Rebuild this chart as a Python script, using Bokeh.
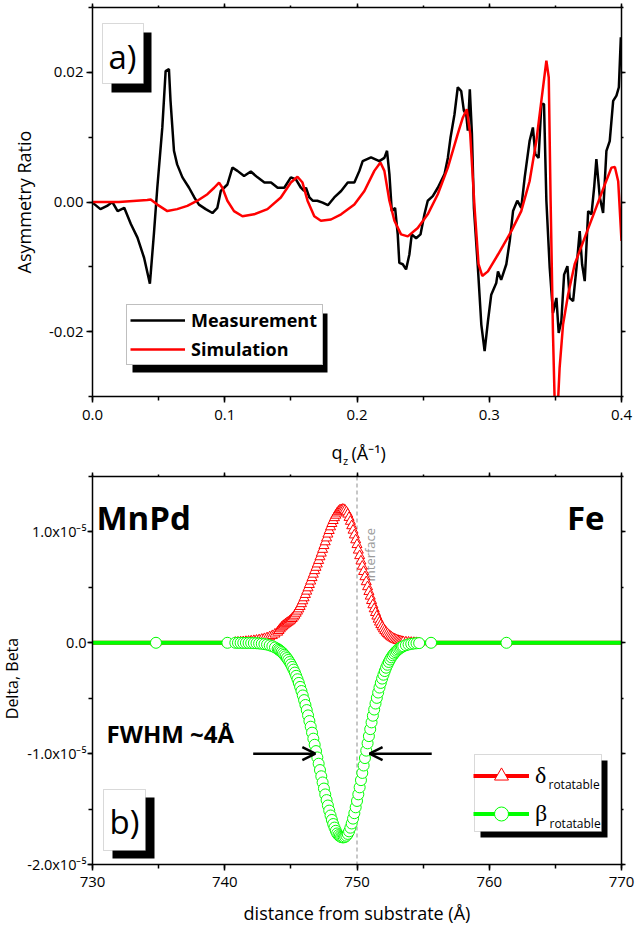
import math
from bokeh.plotting import figure
from bokeh.layouts import column, row
from bokeh.models import (LinearAxis, SingleIntervalTicker, NumeralTickFormatter, Legend, LegendItem,
                          BoxAnnotation, Label, Span, Arrow, OpenHead, Range1d)
from bokeh.embed import file_html
from bokeh.resources import INLINE

# ---------------- Panel a) data ----------------
meas_q = [0.000, 0.006, 0.011, 0.015, 0.019, 0.024, 0.029, 0.034, 0.039, 0.0434, 0.0464, 0.049, 0.0528,
          0.0553, 0.0578, 0.059, 0.0616, 0.064, 0.068, 0.073, 0.077, 0.0805, 0.0856, 0.0907, 0.0944, 0.097,
          0.0995, 0.102, 0.1058, 0.1096, 0.1146, 0.1197, 0.1248, 0.130, 0.135, 0.140, 0.145, 0.150, 0.1538,
          0.1576, 0.160, 0.1614, 0.164, 0.1665, 0.170, 0.174, 0.178, 0.1828, 0.188, 0.193, 0.198, 0.2018,
          0.2043, 0.2106, 0.2169, 0.2207, 0.2227, 0.2245, 0.2263, 0.2288, 0.2308, 0.232, 0.2346, 0.2371,
          0.2396, 0.2414, 0.2447, 0.248, 0.251, 0.2535, 0.2573, 0.2611, 0.2662, 0.2687, 0.2707, 0.2737,
          0.2762, 0.2788, 0.2808, 0.2826, 0.2838, 0.2853, 0.2869, 0.2884, 0.2914, 0.294, 0.2965, 0.299,
          0.3015, 0.3053, 0.3066, 0.309, 0.3129, 0.3155, 0.318, 0.3212, 0.3242, 0.3268, 0.3305, 0.333,
          0.3348, 0.3373, 0.3394, 0.3414, 0.3432, 0.3457, 0.3482, 0.3508, 0.3525, 0.3545, 0.3566, 0.3591,
          0.3608, 0.3634, 0.366, 0.3684, 0.3702, 0.3722, 0.3748, 0.3773, 0.3793, 0.381, 0.3836, 0.3861,
          0.3886, 0.3911, 0.3937, 0.3962, 0.398, 0.3995]
meas_ratio = [-0.0001, -0.0011, -0.0006, 0.0, -0.0014, -0.0009, -0.0034, -0.0055, -0.0086, -0.0126, -0.005,
              0.0022, 0.0115, 0.0202, 0.0205, 0.0156, 0.0079, 0.0058, 0.0038, 0.0022, 0.0007, -0.0004,
              -0.0011, -0.0017, -0.0009, 0.0017, 0.0022, 0.0027, 0.0053, 0.0048, 0.004, 0.0047, 0.0038,
              0.003, 0.003, 0.0022, 0.0022, 0.0038, 0.0035, 0.0022, 0.0017, 0.0022, 0.0007, 0.0002, 0.0002,
              -0.0001, -0.0005, 0.0007, 0.0017, 0.003, 0.003, 0.0048, 0.0063, 0.0069, 0.0063, 0.0068, 0.0079,
              0.0043, -0.0014, -0.0009, -0.005, -0.0094, -0.0096, -0.0104, -0.0081, -0.005, -0.0056, -0.005,
              -0.0019, 0.0002, 0.0009, 0.0022, 0.0043, 0.0068, 0.0099, 0.0135, 0.0177, 0.0171, 0.0141,
              0.0135, 0.011, 0.0174, 0.0105, -0.0009, -0.0101, -0.0189, -0.023, -0.0184, -0.0143, -0.0125,
              -0.0107, -0.012, -0.0096, -0.006, -0.0014, 0.0002, -0.0009, 0.0038, 0.0094, 0.0115, 0.0074,
              0.0068, 0.0151, 0.0151, 0.0002, -0.0101, -0.0171, -0.0148, -0.0202, -0.0184, -0.0112, -0.0099,
              -0.0148, -0.0153, -0.0101, -0.0045, -0.0096, -0.0122, -0.0014, -0.0019, 0.0022, 0.0066, 0.0007,
              -0.0017, 0.0079, 0.0094, 0.0156, 0.0164, 0.0177, 0.0254]

sim_q = [0.0, 0.02, 0.0414, 0.044, 0.049, 0.0566, 0.064, 0.0717, 0.0793, 0.0869, 0.092, 0.0957, 0.0982,
         0.102, 0.107, 0.1134, 0.1222, 0.1323, 0.1424, 0.150, 0.155, 0.1588, 0.1626, 0.1677, 0.1727, 0.1803,
         0.188, 0.198, 0.2056, 0.2131, 0.2177, 0.2207, 0.2245, 0.2283, 0.2333, 0.2384, 0.2459, 0.2535,
         0.2611, 0.2687, 0.2762, 0.280, 0.283, 0.2856, 0.2889, 0.2919, 0.2947, 0.299, 0.3066, 0.3167,
         0.3242, 0.3305, 0.3356, 0.3394, 0.3432, 0.345, 0.3464, 0.3482, 0.3495, 0.3515, 0.3532, 0.3558,
         0.3596, 0.3646, 0.3722, 0.3798, 0.3874, 0.3924, 0.395, 0.3975, 0.400]
sim_ratio = [0.0, 0.0, 0.0003, 0.0004, -0.0004, -0.0014, -0.0011, -0.0006, 0.0002, 0.0012, 0.0022, 0.003,
             0.0022, 0.0002, -0.0014, -0.0022, -0.0019, -0.0011, 0.0007, 0.003, 0.0039, 0.003, 0.0002,
             -0.0022, -0.0029, -0.0027, -0.0019, -0.0004, 0.0017, 0.0048, 0.0061, 0.0048, 0.0002, -0.0029,
             -0.005, -0.0053, -0.004, -0.0019, 0.0012, 0.0053, 0.0105, 0.013, 0.0143, 0.0105, -0.0009,
             -0.0096, -0.0114, -0.0107, -0.0081, -0.0045, -0.0014, 0.0032, 0.0094, 0.0156, 0.0218, 0.0192,
             0.0002, -0.0204, -0.031, -0.033, -0.0256, -0.0189, -0.0143, -0.0096, -0.0055, -0.0014, 0.0027,
             0.0053, 0.0054, 0.0032, -0.006]

# ---------------- Panel b) data (values in units of 1e-5) ----------------
depth = [728.0, 734.8, 740.2,
         740.8, 741.0, 741.2, 741.4, 741.6, 741.8, 742.0, 742.2, 742.4, 742.6, 742.8, 743.0, 743.2, 743.4,
         743.6, 743.8,
         744.0, 744.1, 744.2, 744.3, 744.4, 744.5, 744.6, 744.7, 744.8, 744.9,
         745.0, 745.1, 745.2, 745.3, 745.4, 745.5, 745.6, 745.7, 745.8, 745.9,
         746.0, 746.1, 746.2, 746.3, 746.4, 746.5, 746.6, 746.7, 746.8, 746.9,
         747.0, 747.1, 747.2, 747.3, 747.4, 747.5, 747.6, 747.7, 747.8, 747.9,
         748.0, 748.1, 748.2, 748.3, 748.4, 748.5, 748.6, 748.7, 748.8, 748.9,
         749.0, 749.1, 749.2, 749.3, 749.4, 749.5, 749.6, 749.7, 749.8, 749.9,
         750.0, 750.1, 750.2, 750.3, 750.4, 750.5, 750.6, 750.7, 750.8, 750.9,
         751.0, 751.1, 751.2, 751.3, 751.4, 751.5, 751.6, 751.7, 751.8, 751.9,
         752.0, 752.1, 752.2, 752.3, 752.4, 752.5, 752.6, 752.7, 752.8, 752.9,
         753.0, 753.1, 753.2, 753.3, 753.4, 753.5,
         753.7, 753.9, 754.1, 754.3, 754.5, 754.7, 755.6, 761.3, 772.0]
delta_rot = [0.0, 0.0, 0.0,
             0.003, 0.005, 0.007, 0.009, 0.011, 0.013, 0.016, 0.019, 0.022, 0.026, 0.031, 0.037, 0.044, 0.053,
             0.064, 0.078,
             0.095, 0.11, 0.125, 0.14, 0.15, 0.16, 0.17, 0.178, 0.186, 0.195,
             0.205, 0.218, 0.232, 0.248, 0.266, 0.285, 0.305, 0.327, 0.352, 0.378,
             0.405, 0.435, 0.465, 0.495, 0.525, 0.556, 0.587, 0.618, 0.65, 0.68,
             0.71, 0.742, 0.775, 0.808, 0.842, 0.876, 0.91, 0.945, 0.98, 1.012,
             1.045, 1.075, 1.102, 1.128, 1.15, 1.17, 1.185, 1.196, 1.2, 1.203,
             1.202, 1.195, 1.18, 1.16, 1.13, 1.095, 1.055, 1.015, 0.972, 0.928,
             0.885, 0.835, 0.785, 0.737, 0.69, 0.642, 0.595, 0.55, 0.505, 0.462,
             0.42, 0.38, 0.342, 0.306, 0.272, 0.24, 0.212, 0.186, 0.163, 0.143,
             0.125, 0.109, 0.095, 0.082, 0.07, 0.06, 0.051, 0.043, 0.036, 0.03,
             0.025, 0.021, 0.017, 0.014, 0.011, 0.009,
             0.007, 0.005, 0.003, 0.002, 0.001, 0.0, 0.0, 0.0, 0.0]
beta_rot = [0.0, 0.0, 0.0,
            0.0, 0.0, -0.0005, -0.001, -0.001, -0.0015, -0.002, -0.003, -0.004, -0.006, -0.0085, -0.012,
            -0.016, -0.023, -0.031, -0.042,
            -0.055, -0.064, -0.073, -0.083, -0.095, -0.108, -0.122, -0.138, -0.155, -0.174,
            -0.195, -0.218, -0.242, -0.269, -0.298, -0.329, -0.362, -0.398, -0.435, -0.475,
            -0.517, -0.561, -0.607, -0.655, -0.706, -0.757, -0.811, -0.865, -0.92, -0.977,
            -1.034, -1.091, -1.148, -1.204, -1.26, -1.315, -1.368, -1.419, -1.468, -1.514,
            -1.558, -1.598, -1.635, -1.667, -1.696, -1.72, -1.735, -1.745, -1.752, -1.755,
            -1.755, -1.75, -1.74, -1.724, -1.701, -1.668, -1.63, -1.586, -1.537, -1.484,
            -1.427, -1.367, -1.304, -1.239, -1.174, -1.107, -1.04, -0.973, -0.907, -0.842,
            -0.779, -0.718, -0.658, -0.602, -0.548, -0.497, -0.449, -0.404, -0.362, -0.323,
            -0.288, -0.255, -0.225, -0.198, -0.173, -0.151, -0.131, -0.113, -0.098, -0.084,
            -0.072, -0.061, -0.052, -0.044, -0.037, -0.031,
            -0.022, -0.015, -0.01, -0.0066, -0.0044, -0.003, 0.0, 0.0, 0.0]

interface_pos = 750.0
fwhm_left = 746.85
fwhm_right = 750.95
fwhm_level = -1.0

y_tick_labels = {1: "1.0x10\u207b\u2075", 0: "0.0", -1: "-1.0x10\u207b\u2075", -2: "-2.0x10\u207b\u2075"}

FONT = "Open Sans"
W = 644

# ---------- page geometry (pixels) ----------
FL, FW = 92, 529
FR = W - FL - FW
T_TOP, T_H, T_BOT = 7, 389, 32          # panel a: page y 0..428
STRIP_H = 40                             # q_z label strip: page y 428..468
B_TOP, B_H, B_BOT = 8, 388, 64           # panel b: page y 468..928 (frame 476..864)
P1_H = T_TOP + T_H + T_BOT
P2_Y0 = P1_H + STRIP_H
YSTRIP_W = 22


def ax_(px):
    return (px - FL) / FW * 0.4


def ay_(py):
    return 0.03 - (py - T_TOP) / T_H * 0.06


def bx_(px):
    return 730 + (px - FL) / FW * 40


def by_(py):
    return 1.5 - (py - (P2_Y0 + B_TOP)) / B_H * 3.5


def style_axis(a, labels=True):
    a.axis_line_width = 1.5
    a.axis_line_color = "black"
    a.major_tick_line_width = 1.5
    a.minor_tick_line_width = 1.5
    a.major_tick_line_color = "black"
    a.minor_tick_line_color = "black"
    a.major_tick_out = 6
    a.major_tick_in = 0
    a.minor_tick_out = 4
    a.minor_tick_in = 0
    a.major_label_text_font = FONT
    a.major_label_text_font_size = "15px"
    a.major_label_text_color = "black"
    a.axis_label_text_font = FONT
    a.axis_label_text_font_size = "18px"
    a.axis_label_text_font_style = "normal"
    a.axis_label_text_color = "black"
    if not labels:
        a.major_label_text_font_size = "1px"
        a.major_label_text_color = None
        a.major_label_standoff = 0
        a.major_tick_out = 4
        a.minor_tick_out = 2


def bare_fig(w, h, xr, yr, left=0, right=0):
    f = figure(frame_width=w, frame_height=h, min_border=0, min_border_left=left, min_border_right=right,
               min_border_top=0, min_border_bottom=0, x_range=xr, y_range=yr,
               x_axis_type=None, y_axis_type=None, output_backend="svg", toolbar_location=None)
    f.outline_line_color = None
    f.background_fill_color = "white"
    f.border_fill_color = "white"
    f.grid.visible = False
    return f


# ================= Panel a =================
p1 = figure(frame_width=FW, frame_height=T_H, min_border_left=FL, min_border_right=FR,
            min_border_top=T_TOP, min_border_bottom=T_BOT,
            x_range=Range1d(0, 0.4), y_range=Range1d(-0.03, 0.03),
            x_axis_type=None, y_axis_type=None,
            output_backend="svg", toolbar_location=None)
p1.outline_line_color = None
p1.background_fill_color = "white"
p1.border_fill_color = "white"

xa = LinearAxis(ticker=SingleIntervalTicker(interval=0.1, num_minor_ticks=2),
                formatter=NumeralTickFormatter(format="0.0"))
style_axis(xa)
xa.major_label_standoff = 7
p1.add_layout(xa, "below")
ya = LinearAxis(ticker=SingleIntervalTicker(interval=0.02, num_minor_ticks=2),
                formatter=NumeralTickFormatter(format="0.00"), axis_label="Asymmetry Ratio")
style_axis(ya)
ya.major_label_standoff = 3
ya.axis_label_standoff = 10
p1.add_layout(ya, "left")
xt = LinearAxis(ticker=SingleIntervalTicker(interval=0.1, num_minor_ticks=2))
style_axis(xt, labels=False)
p1.add_layout(xt, "above")
yr = LinearAxis(ticker=SingleIntervalTicker(interval=0.02, num_minor_ticks=2))
style_axis(yr, labels=False)
p1.add_layout(yr, "right")

l_meas = p1.line(meas_q, meas_ratio, line_color="black", line_width=2.5)
l_sim = p1.line(sim_q, sim_ratio, line_color="#ff0000", line_width=2.5)

# a) label box
p1.add_layout(BoxAnnotation(left=ax_(111), right=ax_(151), top=ay_(32), bottom=ay_(92),
                            fill_color="black", fill_alpha=1, line_color=None))
p1.add_layout(BoxAnnotation(left=ax_(102), right=ax_(143), top=ay_(23), bottom=ay_(83),
                            fill_color="white", fill_alpha=1, line_color="#808080", line_width=1))
p1.add_layout(Label(x=ax_(122), y=ay_(56), text="a)", text_font=FONT, text_font_size="33px",
                    text_align="center", text_baseline="middle", text_color="black"))

# legend shadow + legend
p1.add_layout(BoxAnnotation(left=ax_(132), right=ax_(327), top=ay_(313), bottom=ay_(372),
                            fill_color="black", fill_alpha=1, line_color=None))
leg1 = Legend(items=[LegendItem(label="Measurement", renderers=[l_meas]),
                     LegendItem(label="Simulation", renderers=[l_sim])],
              location=(34, 31), padding=3, spacing=5, margin=0,
              glyph_width=55, glyph_height=24, label_height=24, label_standoff=6, label_width=128,
              label_text_font=FONT, label_text_font_style="bold", label_text_font_size="18px",
              label_text_color="black",
              border_line_color="#808080", border_line_width=1,
              background_fill_color="white", background_fill_alpha=1)
p1.add_layout(leg1)

# ================= q_z axis-title strip (x and y in page pixels) =================
strip = bare_fig(FW, STRIP_H, Range1d(FL, FL + FW), Range1d(STRIP_H, 0), left=FL, right=FR)
sy0 = P1_H
strip.add_layout(Label(x=331, y=451 - sy0, text="q", text_font=FONT, text_font_size="18px",
                       text_align="left", text_baseline="alphabetic", text_color="black"))
strip.add_layout(Label(x=342.5, y=460 - sy0, text="z", text_font=FONT, text_font_size="11px",
                       text_align="left", text_baseline="alphabetic", text_color="black"))
strip.add_layout(Label(x=351, y=452 - sy0, text="(\u00c5\u207b\u00b9)", text_font=FONT,
                       text_font_size="18px", text_align="left", text_baseline="alphabetic",
                       text_color="black"))

# ================= Panel b =================
p2 = figure(frame_width=FW, frame_height=B_H, min_border_left=FL - YSTRIP_W,
            min_border_right=FR, min_border_top=B_TOP, min_border_bottom=B_BOT,
            x_range=Range1d(730, 770), y_range=Range1d(-2.0, 1.5),
            x_axis_type=None, y_axis_type=None,
            output_backend="svg", toolbar_location=None)
p2.outline_line_color = None
p2.background_fill_color = "white"
p2.border_fill_color = "white"

xb = LinearAxis(ticker=SingleIntervalTicker(interval=10, num_minor_ticks=2),
                axis_label="distance from substrate (\u00c5)")
style_axis(xb)
xb.major_label_standoff = 6
xb.axis_label_standoff = 11
p2.add_layout(xb, "below")
yb = LinearAxis(ticker=SingleIntervalTicker(interval=1, num_minor_ticks=2))
yb.major_label_overrides = y_tick_labels
style_axis(yb)
yb.major_label_text_font_size = "14.5px"
yb.major_tick_out = 5
yb.major_label_standoff = 1
p2.add_layout(yb, "left")
xbt = LinearAxis(ticker=SingleIntervalTicker(interval=10, num_minor_ticks=2))
style_axis(xbt, labels=False)
p2.add_layout(xbt, "above")
ybr = LinearAxis(ticker=SingleIntervalTicker(interval=1, num_minor_ticks=2))
style_axis(ybr, labels=False)
p2.add_layout(ybr, "right")

p2.add_layout(Span(location=interface_pos, dimension="height", line_color="#b4b4b4",
                   line_dash="4 3", line_width=1.5, level="underlay"))
p2.add_layout(Label(x=bx_(369), y=by_(581), text="interface", angle=math.pi / 2, text_font=FONT,
                    text_font_size="13px", text_align="left", text_baseline="middle",
                    text_color="#9a9a9a", level="underlay"))

RED = "#ff0000"
GREEN = "#00ff00"
l_d = p2.line(depth, delta_rot, line_color=RED, line_width=4)
l_b = p2.line(depth, beta_rot, line_color=GREEN, line_width=4)
s_d = p2.scatter(depth, delta_rot, marker="triangle", size=10, line_color=RED, fill_color="white",
                 line_width=1)
s_b = p2.scatter(depth, beta_rot, marker="circle", size=11, line_color=GREEN, fill_color="white",
                 line_width=1)

p2.add_layout(Label(x=bx_(96), y=by_(517), text="MnPd", text_font=FONT, text_font_size="33px",
                    text_font_style="bold", text_align="left", text_baseline="alphabetic",
                    text_color="black"))
p2.add_layout(Label(x=bx_(604), y=by_(517), text="Fe", text_font=FONT, text_font_size="33px",
                    text_font_style="bold", text_align="right", text_baseline="alphabetic",
                    text_color="black"))
p2.add_layout(Label(x=bx_(106), y=by_(733), text="FWHM ~4\u00c5", text_font=FONT,
                    text_font_size="24px", text_font_style="bold", text_align="left",
                    text_baseline="middle", text_color="black"))

p2.add_layout(Arrow(end=OpenHead(size=13, line_width=2.5, line_color="black"),
                    x_start=fwhm_left - 4.7, y_start=fwhm_level, x_end=fwhm_left, y_end=fwhm_level,
                    line_width=2.5, line_color="black"))
p2.add_layout(Arrow(end=OpenHead(size=13, line_width=2.5, line_color="black"),
                    x_start=fwhm_right + 4.7, y_start=fwhm_level, x_end=fwhm_right, y_end=fwhm_level,
                    line_width=2.5, line_color="black"))

# b) label box
p2.add_layout(BoxAnnotation(left=bx_(112), right=bx_(154), top=by_(797), bottom=by_(858),
                            fill_color="black", fill_alpha=1, line_color=None))
p2.add_layout(BoxAnnotation(left=bx_(103), right=bx_(145), top=by_(789), bottom=by_(850),
                            fill_color="white", fill_alpha=1, line_color="#808080", line_width=1))
p2.add_layout(Label(x=bx_(124), y=by_(821), text="b)", text_font=FONT, text_font_size="33px",
                    text_align="center", text_baseline="middle", text_color="black"))

# legend: shadow, white frame, subscripts, then transparent legend on top
p2.add_layout(BoxAnnotation(left=bx_(480), right=bx_(607), top=by_(760), bottom=by_(837),
                            fill_color="black", fill_alpha=1, line_color=None))
p2.add_layout(BoxAnnotation(left=bx_(474), right=bx_(601), top=by_(754), bottom=by_(831),
                            fill_color="white", fill_alpha=1, line_color="#808080", line_width=1))
p2.add_layout(Label(x=bx_(548), y=by_(784), text="rotatable", text_font=FONT, text_font_size="12px",
                    text_align="left", text_baseline="middle", text_color="black"))
p2.add_layout(Label(x=bx_(549), y=by_(823), text="rotatable", text_font=FONT, text_font_size="12px",
                    text_align="left", text_baseline="middle", text_color="black"))
leg2 = Legend(items=[LegendItem(label="\u03b4", renderers=[l_d, s_d]),
                     LegendItem(label="\u03b2", renderers=[l_b, s_b])],
              location=(381, 33), padding=2, spacing=3, margin=0,
              glyph_width=56, glyph_height=35, label_height=35, label_standoff=6, label_width=61,
              label_text_font="Liberation Serif", label_text_font_size="24px",
              label_text_color="black",
              border_line_color=None, background_fill_alpha=0)
p2.add_layout(leg2)

# ================= y-title strip for panel b (page pixels) =================
P2_H = B_TOP + B_H + B_BOT
ystrip = bare_fig(YSTRIP_W, P2_H, Range1d(0, YSTRIP_W), Range1d(P2_H, 0))
ystrip.add_layout(Label(x=11, y=670 - P2_Y0, text="Delta, Beta", angle=math.pi / 2, text_font=FONT,
                        text_font_size="16px", text_align="center", text_baseline="middle",
                        text_color="black"))

layout = column(p1, strip, row(ystrip, p2, spacing=0), spacing=0)
open("out.html", "w").write(file_html(layout, INLINE))
